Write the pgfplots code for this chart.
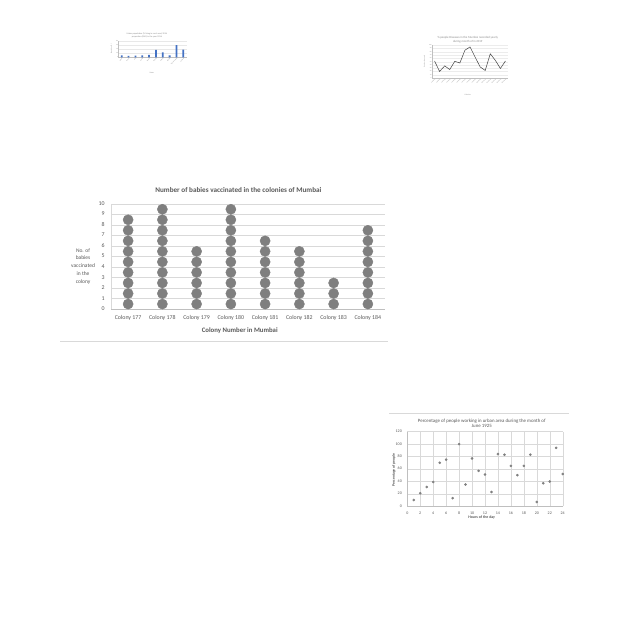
\documentclass[border=0pt]{standalone}
\usepackage{fontspec}
\setmainfont{Carlito}[Numbers=Lining]
\usepackage{pgfplots}
\pgfplotsset{compat=1.18}
\pgfplotsset{/pgf/number format/assume math mode=true, typeset ticklabels with strut}
\definecolor{txt}{HTML}{595959}
\definecolor{grd}{HTML}{D9D9D9}
\definecolor{axg}{HTML}{BFBFBF}
\definecolor{dot}{HTML}{7F7F7F}
\definecolor{barblue}{HTML}{4472C4}
\definecolor{lightxt}{HTML}{8C8C8C}
\begin{document}
\begin{tikzpicture}
\path[use as bounding box, fill=white] (0bp,0bp) rectangle (640bp,640bp);
\draw[grd, line width=0.6bp] (60bp,299bp) -- (388bp,299bp);
\draw[grd, line width=0.6bp] (389bp,227bp) -- (569bp,227bp);

% ---------------- main dot plot ----------------
\begin{axis}[
  at={(111bp,330.7bp)}, anchor=south west,
  scale only axis, width=274bp, height=105.3bp,
  xmin=0, xmax=8, ymin=0, ymax=10, clip=false,
  xtick={0.5,1.5,2.5,3.5,4.5,5.5,6.5,7.5},
  xticklabels={Colony 177,Colony 178,Colony 179,Colony 180,Colony 181,Colony 182,Colony 183,Colony 184},
  ytick={0,1,2,3,4,5,6,7,8,9,10},
  ymajorgrids, grid style={grd, line width=0.6bp},
  axis x line*=bottom, axis y line*=left,
  x axis line style={-, draw=axg, line width=0.8bp},
  y axis line style={-, draw=grd, line width=0.6bp},
  tick style={draw=none},
  ticklabel style={font=\fontsize{5.9}{6.5}\selectfont, text=txt},
  xticklabel style={yshift=-2.5bp},
  yticklabel style={xshift=-3bp},
  title={Number of babies vaccinated in the colonies of Mumbai},
  title style={font=\fontsize{7.2}{8}\selectfont\bfseries, text=txt, at={(axis description cs:0.465,1.076)}, anchor=center},
  xlabel={Colony Number in Mumbai},
  xlabel style={font=\fontsize{6.8}{7.5}\selectfont\bfseries, text=txt, at={(axis description cs:0.47,-0.2)}, anchor=center},
  ylabel={No. of\\babies\\vaccinated\\in the\\colony},
  ylabel style={rotate=-90, align=center, font=\fontsize{5.5}{7.8}\selectfont, text=txt, at={(axis description cs:-0.102,0.41)}, anchor=center},
]
\addplot[only marks, mark=*, mark size=5.1pt, mark options={draw=dot, fill=dot}] coordinates {
(0.5,0.5)(0.5,1.5)(0.5,2.5)(0.5,3.5)(0.5,4.5)(0.5,5.5)(0.5,6.5)(0.5,7.5)(0.5,8.5)
(1.5,0.5)(1.5,1.5)(1.5,2.5)(1.5,3.5)(1.5,4.5)(1.5,5.5)(1.5,6.5)(1.5,7.5)(1.5,8.5)(1.5,9.5)
(2.5,0.5)(2.5,1.5)(2.5,2.5)(2.5,3.5)(2.5,4.5)(2.5,5.5)
(3.5,0.5)(3.5,1.5)(3.5,2.5)(3.5,3.5)(3.5,4.5)(3.5,5.5)(3.5,6.5)(3.5,7.5)(3.5,8.5)(3.5,9.5)
(4.5,0.5)(4.5,1.5)(4.5,2.5)(4.5,3.5)(4.5,4.5)(4.5,5.5)(4.5,6.5)
(5.5,0.5)(5.5,1.5)(5.5,2.5)(5.5,3.5)(5.5,4.5)(5.5,5.5)
(6.5,0.5)(6.5,1.5)(6.5,2.5)
(7.5,0.5)(7.5,1.5)(7.5,2.5)(7.5,3.5)(7.5,4.5)(7.5,5.5)(7.5,6.5)(7.5,7.5)
};
\end{axis}

% ---------------- scatter (bottom right) ----------------
\begin{axis}[
  at={(407.3bp,133.7bp)}, anchor=south west,
  scale only axis, width=155.4bp, height=74.6bp,
  xmin=0, xmax=24, ymin=0, ymax=120, clip=false,
  xtick={0,2,4,6,8,10,12,14,16,18,20,22,24},
  ytick={0,20,40,60,80,100,120},
  grid=major, grid style={grd, line width=0.4bp},
  axis x line*=bottom, axis y line*=left,
  axis line style={-, draw=axg, line width=0.5bp},
  tick style={draw=none},
  ticklabel style={font=\fontsize{4}{4.5}\selectfont, text=txt},
  xticklabel style={yshift=-2bp},
  yticklabel style={xshift=-2bp},
  title={Percentage of people working in urban area during the month of\\June 1925},
  title style={align=center, font=\fontsize{4.9}{5.3}\selectfont, text=txt, at={(axis description cs:0.479,1.034)}, anchor=center},
  xlabel={Hours of the day},
  xlabel style={font=\fontsize{3.9}{4}\selectfont\bfseries, text=txt, at={(axis description cs:0.479,-0.147)}, anchor=center},
  ylabel={Percentage of people},
  ylabel style={font=\fontsize{3.8}{4}\selectfont\bfseries, text=txt, at={(axis description cs:-0.086,0.487)}, anchor=center},
]
\addplot[only marks, mark=*, mark size=1.1pt, mark options={draw=dot, fill=dot}] coordinates {
(1,10)(2,21)(3,31)(4,39)(5,70)(6,75)(7,13)(8,100)(9,35)(10,77)(11,57)(12,51)
(13,23)(14,84)(15,83)(16,65)(17,50)(18,65)(19,83)(20,7)(21,37)(22,40)(23,94)(24,52)
};
\end{axis}

% ---------------- bar chart (top left) ----------------
\begin{axis}[
  at={(118.3bp,582.7bp)}, anchor=south west,
  scale only axis, width=68.4bp, height=16.3bp,
  xmin=-0.5, xmax=9.5, ymin=0, ymax=80,
  xtick={0,1,2,3,4,5,6,7,8,9},
  xticklabels={Bihar,Assam,Goa,Delhi,Kerala,Punjab,Sikkim,Odisha,Uttar Pradesh,Gujarat},
  ytick={0,20,40,60,80},
  ymajorgrids, grid style={grd!60, line width=0.2bp},
  axis x line*=bottom, axis y line*=left,
  axis line style={-, draw=axg, line width=0.3bp},
  tick style={draw=none},
  ticklabel style={font=\fontsize{1.5}{1.8}\selectfont, text=lightxt, inner sep=0.3bp},
  xticklabel style={rotate=45, anchor=north east},
  title={Urban population (\% living in rural area) 2016\\proportion (DHS) in the year 2016},
  title style={align=center, font=\fontsize{2.2}{3}\selectfont, text=lightxt, at={(axis description cs:0.417,0.97)}, anchor=center},
  xlabel={States},
  xlabel style={font=\fontsize{1.8}{2}\selectfont, text=lightxt, at={(axis description cs:0.49,-0.98)}, anchor=center},
  ylabel={Population (\%)},
  ylabel style={font=\fontsize{1.6}{2}\selectfont, text=lightxt, at={(axis description cs:-0.1,0.5)}, anchor=center},
]
\addplot[ybar, bar width=1.8bp, fill=barblue, draw=none] coordinates {
(0,10)(1,6.5)(2,8)(3,10)(4,11.5)(5,36)(6,24.5)(7,10)(8,60)(9,37.5)
};
\end{axis}

% ---------------- line chart (top right) ----------------
\begin{axis}[
  at={(432bp,562bp)}, anchor=south west,
  scale only axis, width=76bp, height=32.7bp,
  xmin=-0.5, xmax=14.5, ymin=0, ymax=100,
  xtick={0,1,2,3,4,5,6,7,8,9,10,11,12,13,14},
  xticklabels={Colony 1,Colony 2,Colony 3,Colony 4,Colony 5,Colony 6,Colony 7,Colony 8,Colony 9,Colony 10,Colony 11,Colony 12,Colony 13,Colony 14,Colony 15},
  ytick={0,10,20,30,40,50,60,70,80,90,100},
  ymajorgrids, grid style={grd!50, line width=0.2bp},
  axis x line*=bottom, axis y line*=left,
  axis line style={-, draw=axg, line width=0.3bp},
  tick style={draw=none},
  ticklabel style={font=\fontsize{1.5}{1.8}\selectfont, text=lightxt, inner sep=0.3bp},
  xticklabel style={rotate=45, anchor=north east},
  title={\% people Diseases in the Mumbai recorded yearly\\during month of in 2019},
  title style={align=center, font=\fontsize{3}{3.3}\selectfont, text=lightxt, at={(axis description cs:0.47,0.99)}, anchor=center},
  xlabel={Colonies},
  xlabel style={font=\fontsize{1.8}{2}\selectfont, text=lightxt, at={(axis description cs:0.47,-0.52)}, anchor=center},
  ylabel={Number of people},
  ylabel style={font=\fontsize{1.6}{2}\selectfont, text=lightxt, at={(axis description cs:-0.1,0.5)}, anchor=center},
]
\addplot[draw=black!75, line width=0.5bp] coordinates {
(0,52)(1,20)(2,37)(3,26)(4,51)(5,46)(6,85)(7,95)(8,64)(9,34)(10,23)(11,74)(12,54)(13,29)(14,52)
};
\end{axis}
\end{tikzpicture}
\end{document}
